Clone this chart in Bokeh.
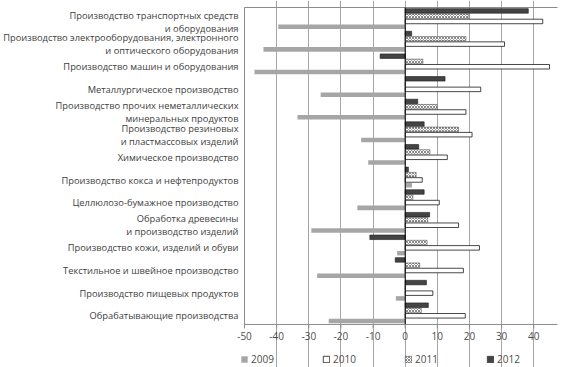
from bokeh.plotting import figure
from bokeh.models import Range1d, FixedTicker, Legend, LegendItem
from bokeh.core.properties import value
from bokeh.embed import file_html
from bokeh.resources import INLINE

categories = [
    "Производство транспортных средств\nи оборудования",
    "Производство электрооборудования, электронного\nи оптического оборудования",
    "Производство машин и оборудования",
    "Металлургическое производство",
    "Производство прочих неметаллических\nминеральных продуктов",
    "Производство резиновых\nи пластмассовых изделий",
    "Химическое производство",
    "Производство кокса и нефтепродуктов",
    "Целлюлозо-бумажное производство",
    "Обработка древесины\nи производство изделий",
    "Производство кожи, изделий и обуви",
    "Текстильное и швейное производство",
    "Производство пищевых продуктов",
    "Обрабатывающие производства",
]
v2009 = [-39.5, -44.1, -46.9, -26.3, -33.5, -13.7, -11.5, 2.1, -14.9, -29.2, -2.5, -27.4, -2.9, -23.8]
v2010 = [42.8, 30.9, 44.9, 23.5, 18.9, 20.8, 13.1, 5.3, 10.6, 16.6, 23.1, 18.1, 8.6, 18.7]
v2011 = [19.8, 18.9, 5.5, 0.0, 9.9, 16.6, 7.7, 3.4, 2.4, 7.0, 6.8, 4.5, 0.0, 5.0]
v2012 = [38.3, 2.0, -7.8, 12.4, 3.9, 5.9, 4.2, 1.0, 5.9, 7.6, -11.0, -3.1, 6.6, 7.2]
x_ticks = [-50, -40, -30, -20, -10, 0, 10, 20, 30, 40]
years = ["2009", "2010", "2011", "2012"]

n = len(categories)
pos = list(range(1, n + 1))
W, H = 564, 367
pxx = 3.214          # pixels per x unit
pxy = 22.64          # pixels per category
left_px, top_px = 244, 7
x_min, x_max = -50, 47.4
y_top, y_axis = 0.5, n + 0.5

xr = Range1d(x_min - left_px / pxx, x_min + (W - left_px) / pxx)
yr = Range1d(y_top + (H - top_px) / pxy, y_top - top_px / pxy)

p = figure(frame_width=W, frame_height=H, output_backend="svg", toolbar_location=None,
           x_range=xr, y_range=yr, min_border=0)
p.outline_line_color = None
p.xaxis.visible = False
p.yaxis.visible = False

p.xgrid.ticker = FixedTicker(ticks=x_ticks[1:])
p.xgrid.bounds = (y_top, y_axis)
p.xgrid.grid_line_color = "#a6a6a6"
p.ygrid.grid_line_color = None

bar_h = 0.2
r2009 = p.hbar(y=[i + 0.35 for i in pos], left=0, right=v2009, height=bar_h,
               fill_color="#a6a6a6", line_color=None)
r2010 = p.hbar(y=[i + 0.117 for i in pos], left=0, right=v2010, height=bar_h,
               fill_color="white", line_color="#1a1a1a", line_width=0.8)
r2011 = p.hbar(y=[i - 0.117 for i in pos], left=0, right=v2011, height=bar_h,
               fill_color="white", line_color="#555555", line_width=0.6,
               hatch_pattern="diagonal_cross", hatch_color="#404040",
               hatch_scale=3, hatch_weight=0.6)
r2012 = p.hbar(y=[i - 0.35 for i in pos], left=0, right=v2012, height=bar_h,
               fill_color="#444444", line_color="#1a1a1a", line_width=0.6)

# frame lines: left, top, bottom axis
axis_col = "#8c8c8c"
p.segment(x0=[x_min], x1=[x_min], y0=[y_top], y1=[y_axis], line_color=axis_col, line_width=1)
p.segment(x0=[x_min], x1=[x_max], y0=[y_top], y1=[y_top], line_color=axis_col, line_width=1)
p.segment(x0=[x_min], x1=[x_max], y0=[y_axis], y1=[y_axis], line_color=axis_col, line_width=1)
# zero line
p.segment(x0=[0], x1=[0], y0=[y_top], y1=[y_axis], line_color="black", line_width=1)

# ticks and tick labels
p.segment(x0=x_ticks, x1=x_ticks, y0=[y_axis] * len(x_ticks),
          y1=[y_axis + 4 / pxy] * len(x_ticks), line_color=axis_col, line_width=1)
p.text(x=x_ticks, y=[y_axis + 8 / pxy] * len(x_ticks), text=[str(t) for t in x_ticks],
       text_align="center", text_baseline="top", text_font=value("Open Sans"),
       text_font_size="10px", text_color="#4d4d4d")

# category labels
p.text(x=[x_min - 6 / pxx] * n, y=[i + 0.12 for i in pos], text=categories,
       text_align="right", text_baseline="middle", text_font=value("Open Sans"),
       text_font_size="9.3px", text_color="#404040", text_line_height=1.0)

legend = Legend(items=[LegendItem(label=y, renderers=[r]) for y, r in
                       zip(years, [r2009, r2010, r2011, r2012])],
                orientation="horizontal", location=(240, 1),
                label_text_font="Open Sans", label_text_font_size="10px",
                label_text_color="#4d4d4d", glyph_width=8, glyph_height=8,
                label_width=60, label_height=10, spacing=11, padding=2, margin=0,
                label_standoff=3, border_line_color=None, background_fill_alpha=0)
p.add_layout(legend)

open("out.html", "w").write(file_html(p, INLINE))
